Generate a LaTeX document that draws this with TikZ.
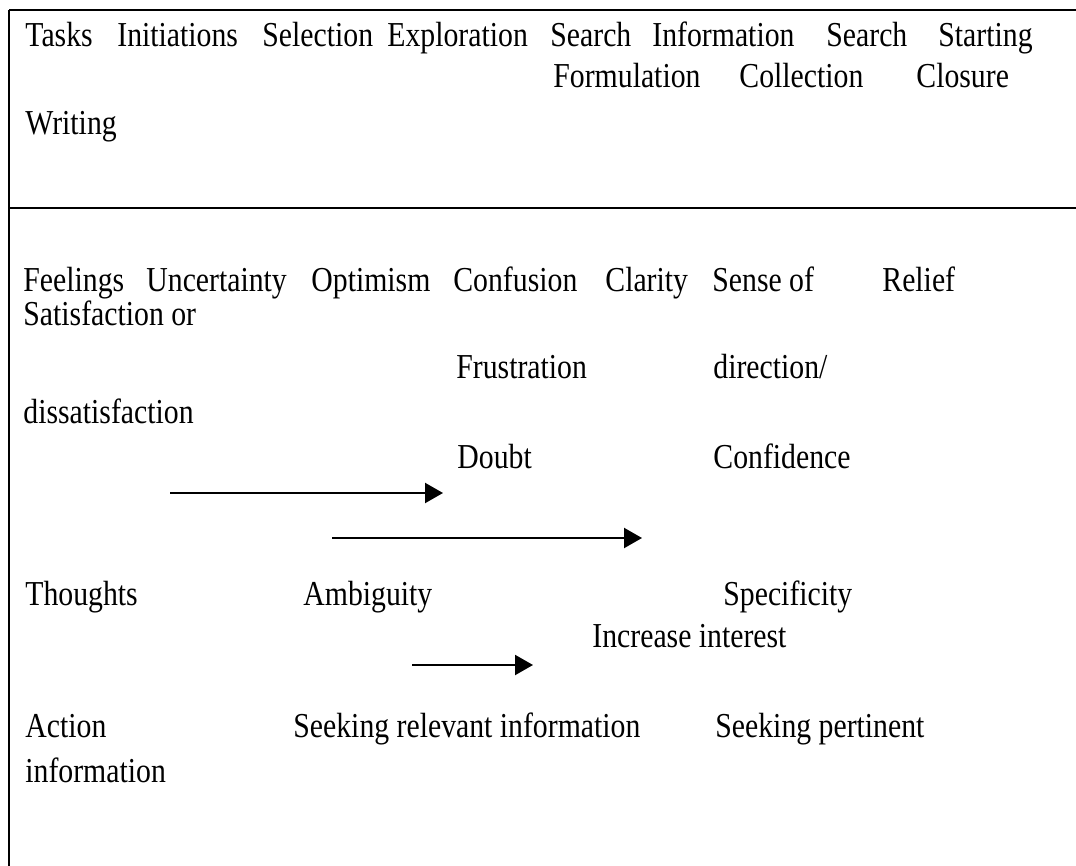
\documentclass[tikz,border=0pt]{standalone}
\usepackage{fontspec}
\setmainfont[FakeStretch=0.85]{Liberation Serif}
\usetikzlibrary{arrows.meta}
\begin{document}
\begin{tikzpicture}[x=0.5pt,y=-0.5pt,
  txt/.style={anchor=base west,inner sep=0pt,font=\fontsize{17.5}{20}\selectfont},
  rule/.style={line width=0.8pt},
  flow/.style={line width=1.1pt,-{Triangle[length=9pt,width=10pt]}}]
\useasboundingbox (0,0) rectangle (1076,866);

% frame and dividing rule
\draw[rule] (9,866) -- (9,10);
\draw[rule,line width=1pt] (9,10) -- (1076,10);
\draw[rule] (9,208) -- (1076,208);

% task row
\node[txt] (tasks) at (25,47) {Tasks};
\node[txt] (init) at (117,47) {Initiations};
\node[txt] (sel) at (262,47) {Selection};
\node[txt] (expl) at (387,47) {Exploration};
\node[txt] (search1) at (550,47) {Search};
\node[txt] (info) at (652,47) {Information};
\node[txt] (search2) at (826,47) {Search};
\node[txt] (start) at (938,47) {Starting};
\node[txt] (form) at (553,88) {Formulation};
\node[txt] (coll) at (739,88) {Collection};
\node[txt] (clos) at (916,88) {Closure};
\node[txt] (writ) at (25,135) {Writing};

% feelings
\node[txt] (feel) at (23,292) {Feelings};
\node[txt] (unc) at (146,292) {Uncertainty};
\node[txt] (opt) at (311,292) {Optimism};
\node[txt] (conf) at (453,292) {Confusion};
\node[txt] (clar) at (605,292) {Clarity};
\node[txt] (sense) at (712,292) {Sense of};
\node[txt] (rel) at (882,292) {Relief};
\node[txt] (satis) at (23,326) {Satisfaction or};
\node[txt] (frus) at (456,378) {Frustration};
\node[txt] (dir) at (713,378) {direction/};
\node[txt] (dissat) at (23,423) {dissatisfaction};
\node[txt] (doubt) at (457,468) {Doubt};
\node[txt] (confid) at (713,468) {Confidence};

% thoughts
\node[txt] (thou) at (25,605) {Thoughts};
\node[txt] (amb) at (303,605) {Ambiguity};
\node[txt] (spec) at (723,605) {Specificity};
\node[txt] (incr) at (592,647) {Increase interest};

% actions
\node[txt] (act) at (25,737) {Action};
\node[txt] (actinfo) at (25,782) {information};
\node[txt] (seekrel) at (293,737) {Seeking relevant information};
\node[txt] (seekper) at (715,737) {Seeking pertinent};

% progression arrows
\coordinate (a1s) at (170,493);
\coordinate (a1e) at (443,493);
\coordinate (a2s) at (332,538);
\coordinate (a2e) at (642,538);
\coordinate (a3s) at (412,665);
\coordinate (a3e) at (533,665);
\draw[flow] (a1s) -- (a1e);
\draw[flow] (a2s) -- (a2e);
\draw[flow] (a3s) -- (a3e);
\end{tikzpicture}
\end{document}
